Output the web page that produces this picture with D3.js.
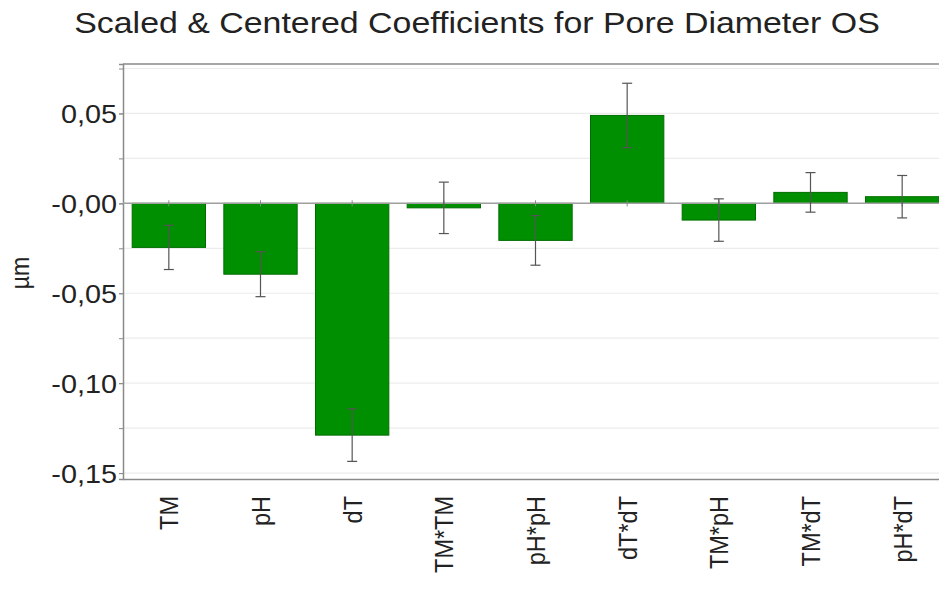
<!DOCTYPE html>
<html>
<head>
<meta charset="utf-8">
<script src="https://cdn.jsdelivr.net/npm/d3@7"></script>
<style>
  body { margin: 0; background: #fff; }
  svg { display: block; font-family: "Liberation Sans", Arial, sans-serif; }
</style>
</head>
<body>
<svg id="chart" width="939" height="589"></svg>
<script>
// datos del gráfico
var terms = ["TM", "pH", "dT", "TM*TM", "pH*pH", "dT*dT", "TM*pH", "TM*dT", "pH*dT"];
var coefs = [-0.0245, -0.0394, -0.1289, -0.0025, -0.0206, 0.0489, -0.0093, 0.0061, 0.0037];
var errs = [0.0123, 0.0125, 0.0146, 0.0143, 0.0138, 0.0179, 0.0118, 0.0110, 0.0118];
var majorTicks = [-0.15, -0.10, -0.05, 0, 0.05];
var minorTicks = [-0.15, -0.125, -0.10, -0.075, -0.05, -0.025, 0, 0.025, 0.05, 0.075];

var svg = d3.select("#chart");
var pLeft = 123, pRight = 948, pTop = 64, pBottom = 479;
var sx = 1.13; // el texto del original sale algo ensanchado

var x = d3.scaleBand().domain(terms).range([pLeft, pRight])
  .paddingInner(0.2).paddingOuter(0.1);
var y = d3.scaleLinear().domain([-0.1533, 0.0775]).range([pBottom, pTop]);

var fmt = function(d) {
  if (d === 0) return "-0,00";
  return d3.format(".2f")(d).replace(".", ",").replace("\u2212", "-");
};

// rejilla
svg.append("g").selectAll("line").data(minorTicks).enter().append("line")
  .attr("x1", pLeft).attr("x2", pRight)
  .attr("y1", function(d) { return y(d); }).attr("y2", function(d) { return y(d); })
  .attr("stroke", "#ececec").attr("stroke-width", 1.2);

// marco superior
svg.append("line").attr("x1", pLeft).attr("x2", pRight).attr("y1", pTop).attr("y2", pTop)
  .attr("stroke", "#8a8a8a").attr("stroke-width", 1.5);

// eje Y
var yMinor = svg.append("g").attr("transform", "translate(" + pLeft + ",0)")
  .call(d3.axisLeft(y).tickValues(minorTicks).tickSize(4).tickFormat(""));
var yAxis = svg.append("g").attr("transform", "translate(" + pLeft + ",0)")
  .call(d3.axisLeft(y).tickValues(majorTicks).tickSize(4).tickFormat(fmt));
yMinor.select(".domain").attr("stroke", "#8a8a8a").attr("stroke-width", 1.5);
yMinor.selectAll(".tick line").attr("stroke", "#8a8a8a");
yAxis.select(".domain").remove();
yAxis.selectAll(".tick line").attr("stroke", "#8a8a8a");
yAxis.selectAll("text").attr("font-size", 25.5).attr("fill", "#222")
  .attr("font-family", "Liberation Sans, Arial, sans-serif")
  .attr("x", 0).attr("dy", "0.36em")
  .attr("transform", "translate(-6,0) scale(" + sx + ",1)");

// barras
svg.append("g").selectAll("rect").data(terms).enter().append("rect")
  .attr("x", function(d) { return x(d); })
  .attr("width", x.bandwidth())
  .attr("y", function(d, i) { return y(Math.max(0, coefs[i])); })
  .attr("height", function(d, i) { return Math.abs(y(coefs[i]) - y(0)); })
  .attr("fill", "#008f00").attr("stroke", "#006d00").attr("stroke-width", 1);

// línea cero
svg.append("line").attr("x1", pLeft).attr("x2", pRight).attr("y1", y(0)).attr("y2", y(0))
  .attr("stroke", "#a0a0a0").attr("stroke-width", 1.5);

// marcas pequeñas sobre la línea cero
svg.append("g").selectAll("line").data(terms).enter().append("line")
  .attr("x1", function(d) { return x(d) + x.bandwidth() / 2; })
  .attr("x2", function(d) { return x(d) + x.bandwidth() / 2; })
  .attr("y1", y(0) - 3).attr("y2", y(0) + 3)
  .attr("stroke", "#888").attr("stroke-width", 1);

// barras de error
var eb = svg.append("g").selectAll("g").data(terms).enter().append("g")
  .attr("transform", function(d) { return "translate(" + (x(d) + x.bandwidth() / 2) + ",0)"; });
eb.append("line").attr("y1", function(d, i) { return y(coefs[i] + errs[i]); })
  .attr("y2", function(d, i) { return y(coefs[i] - errs[i]); })
  .attr("stroke", "#555").attr("stroke-width", 1.2);
eb.append("line").attr("x1", -5).attr("x2", 5)
  .attr("y1", function(d, i) { return y(coefs[i] + errs[i]); })
  .attr("y2", function(d, i) { return y(coefs[i] + errs[i]); })
  .attr("stroke", "#555").attr("stroke-width", 1.2);
eb.append("line").attr("x1", -5).attr("x2", 5)
  .attr("y1", function(d, i) { return y(coefs[i] - errs[i]); })
  .attr("y2", function(d, i) { return y(coefs[i] - errs[i]); })
  .attr("stroke", "#555").attr("stroke-width", 1.2);

// eje X
var xAxis = svg.append("g").attr("transform", "translate(0," + pBottom + ")")
  .call(d3.axisBottom(x).tickSize(0).tickPadding(0));
xAxis.select(".domain").attr("stroke", "#8a8a8a").attr("stroke-width", 1.5);
xAxis.selectAll("text")
  .attr("font-size", 23.5).attr("fill", "#222")
  .attr("font-family", "Liberation Sans, Arial, sans-serif")
  .attr("text-anchor", "end")
  .attr("transform", "scale(" + sx + ",1) rotate(-90)")
  .attr("x", -17).attr("y", 0).attr("dy", "0.36em");

// título y etiqueta
svg.append("text").attr("transform", "translate(477,33) scale(" + sx + ",1)")
  .attr("text-anchor", "middle")
  .attr("font-size", 30).attr("fill", "#222")
  .text("Scaled & Centered Coefficients for Pore Diameter OS");
svg.append("text").attr("transform", "translate(29,273) scale(" + sx + ",1) rotate(-90)")
  .attr("text-anchor", "middle").attr("font-size", 23).attr("fill", "#222")
  .text("\u00b5m");
</script>
</body>
</html>
